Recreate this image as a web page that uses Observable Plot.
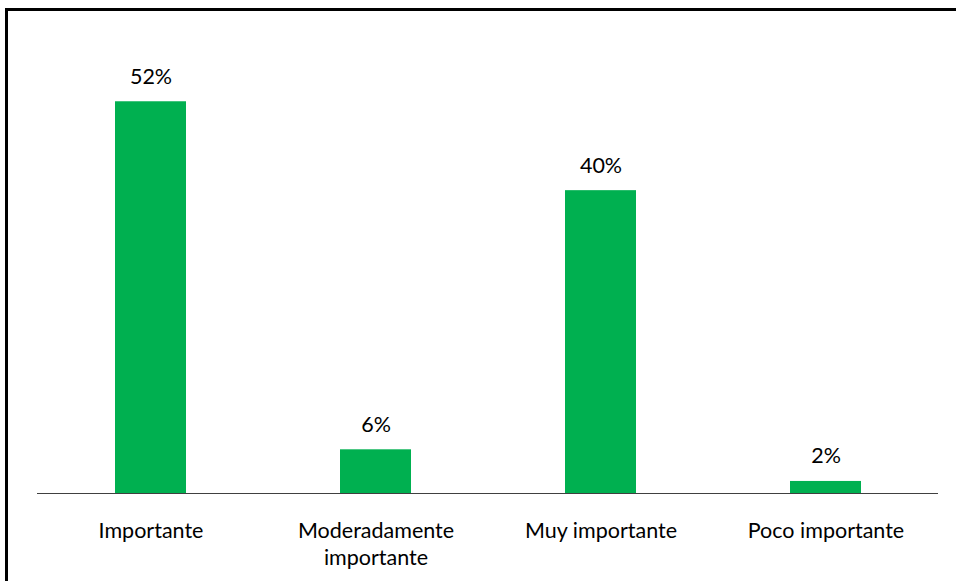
<!DOCTYPE html>
<html>
<head>
<meta charset="utf-8">
<script src="https://cdn.jsdelivr.net/npm/d3@7"></script>
<script src="https://cdn.jsdelivr.net/npm/@observablehq/plot@0.6"></script>
<style>
  html, body { margin: 0; padding: 0; background: #fff; overflow: hidden; }
  #wrap { position: relative; width: 956px; height: 581px; }
  #frame { position: absolute; left: 5px; top: 8px; width: 1200px; height: 1200px;
           border-left: 3px solid #000; border-top: 3px solid #000; box-sizing: border-box; pointer-events: none; }
  #chart { position: absolute; left: 0; top: 0; }
</style>
</head>
<body>
<div id="wrap">
  <div id="chart"></div>
  <div id="frame"></div>
</div>
<script>
const categories = ["Importante", "Moderadamente importante", "Muy importante", "Poco importante"];
const tickLabels = ["Importante", "Moderadamente\nimportante", "Muy importante", "Poco importante"];
const values = [52, 5.8, 40.2, 1.6];
const valueLabels = ["52%", "6%", "40%", "2%"];

const data = categories.map((c, i) => ({cat: c, value: values[i], label: valueLabels[i], tick: tickLabels[i]}));
const tickMap = new Map(data.map(d => [d.cat, d.tick]));

const chart = Plot.plot({
  width: 956,
  height: 581,
  marginLeft: 37,
  marginRight: 18,
  marginTop: 41,
  marginBottom: 88,
  style: { fontFamily: "Lato, 'Open Sans', sans-serif", fontSize: "21.5px", color: "#000", background: "transparent" },
  x: { domain: categories, paddingInner: 0.685, paddingOuter: 0.3425, label: null },
  y: { domain: [0, 60], axis: null },
  marks: [
    Plot.barY(data, { x: "cat", y: "value", fill: "#00B050" }),
    Plot.ruleY([0], { stroke: "#404040", strokeWidth: 1.2 }),
    Plot.text(data, { x: "cat", y: "value", text: "label", dy: -25, fontSize: 21.5, fill: "#000" }),
    Plot.axisX({ tickSize: 0, tickPadding: 26, fontSize: 21.5, tickFormat: d => tickMap.get(d), lineHeight: 1.23, fill: "#000" })
  ]
});
document.getElementById("chart").appendChild(chart);
</script>
</body>
</html>
